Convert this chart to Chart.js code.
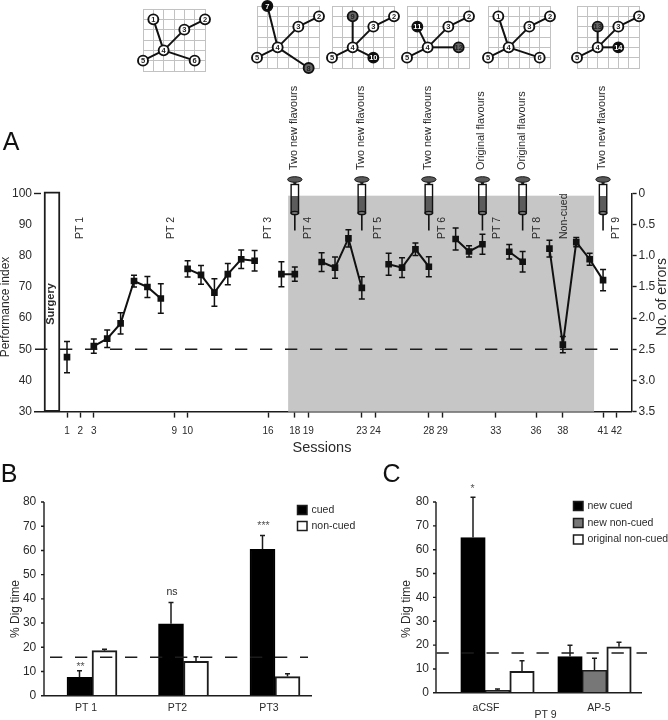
<!DOCTYPE html>
<html>
<head>
<meta charset="utf-8">
<title>Performance index and dig time</title>
<script src="https://cdn.jsdelivr.net/npm/chart.js@4/dist/chart.umd.min.js"></script>
<style>
  html, body { margin: 0; padding: 0; background: #fff; }
  #page { position: relative; width: 668px; height: 720px; overflow: hidden; }
  #page canvas { position: absolute; }
</style>
</head>
<body>
<div id="page">
  <canvas id="net1"></canvas>
  <canvas id="net2"></canvas>
  <canvas id="net3"></canvas>
  <canvas id="net4"></canvas>
  <canvas id="net5"></canvas>
  <canvas id="net6"></canvas>
  <canvas id="chartA" width="668" height="720" style="left:0;top:0"></canvas>
  <canvas id="chartB" width="668" height="720" style="left:0;top:0"></canvas>
  <canvas id="chartC" width="668" height="720" style="left:0;top:0"></canvas>
</div>

<script>
// ---- PANEL A DATA ----
const sessions = [1, 2, 3, 4, 5, 6, 7, 8, 9, 10, 11, 12, 13, 14, 15, 16, 17, 18, 19, 20, 21,
  22, 23, 24, 25, 26, 27, 28, 29, 30, 31, 32, 33, 34, 35, 36, 37, 38, 39, 40, 41];
const performance = [47.5, null, 51, 53.4, 58.3, 71.9, 70, 66.3, null, 75.8, 73.9, 68.2, 74.1, 78.9, 78.4, null, 74.1, 74.1, null, 78, 76.2,
  85.6, 69.7, null, 77.3, 76.2, 82.1, 76.5, null, 85.4, 81.4, 83.7, null, 81.3, 78.1, null, 82.3, 51.5, 84.4, 78.9, 72.2];
const performanceErr = [5, null, 2.3, 2.8, 3.4, 1.9, 3.4, 4.7, null, 2.6, 3, 4.4, 3.4, 3, 3.3, null, 4, 2.3, null, 3, 3.4,
  2.8, 3.6, null, 3.5, 3.2, 2, 3.2, null, 3.5, 1.8, 3.2, null, 2.3, 3.3, null, 2.7, 2.6, 1.5, 1.9, 3.4];
const sessionTicks = [1, 2, 3, 9, 10, 16, 18, 19, 23, 24, 28, 29, 33, 36, 38, 41, 42];
const performanceTicks = [30, 40, 50, 60, 70, 80, 90, 100];
const errorTicks = [0, 0.5, 1, 1.5, 2, 2.5, 3, 3.5];
const chanceLevelA = 50;
const surgerySession = -0.12;
const surgeryRange = [30, 100.5];
const shadedSessions = [17.5, 40.33];
const shadedTop = 99.3;

const syringeSessions = [18, 23, 28, 32, 35, 41];
const syringeLabels = ['Two new flavours', 'Two new flavours', 'Two new flavours',
  'Original flavours', 'Original flavours', 'Two new flavours'];
const probeSessions = [2, 8.8, 16, 19, 24.2, 29, 33.1, 36.1, 38.1, 42];
const probeLabels = ['PT 1', 'PT 2', 'PT 3', 'PT 4', 'PT 5', 'PT 6', 'PT 7', 'PT 8', 'Non-cued', 'PT 9'];

// ---- PANEL B DATA ----
const groupsB = ['PT 1', 'PT2', 'PT3'];
const cuedB = [7.6, 29.7, 60.5];
const cuedErrB = [2.7, 8.8, 5.7];
const nonCuedB = [18.6, 14.2, 7.9];
const nonCuedErrB = [0.6, 1.9, 1.2];
const sigLabelsB = ['**', 'ns', '***'];
const sigGapsB = [4, 10.5, 9];
const chanceLevelB = 15.9;

// ---- PANEL C DATA ----
const groupsC = ['aCSF', 'AP-5'];
const newCuedC = [65.1, 15.2];
const newCuedErrC = [16.9, 4.7];
const newNonCuedC = [1, 9.4];
const newNonCuedErrC = [0.6, 5.1];
const originalC = [9, 19.3];
const originalErrC = [4.4, 1.9];
const chanceLevelC = 16.7;
const digTicks = [0, 10, 20, 30, 40, 50, 60, 70, 80];

// ---- NETWORK SCHEMATICS (grid units) ----
const baseNodes = [
  { n: '2', x: 6, y: 1, kind: 'plain' },
  { n: '3', x: 4, y: 2, kind: 'plain' },
  { n: '4', x: 2, y: 4, kind: 'plain' },
  { n: '5', x: 0, y: 5, kind: 'plain' }
];
const net1Nodes = [{ n: '1', x: 1, y: 1, kind: 'plain' }, { n: '6', x: 5, y: 5, kind: 'plain' }];
const net2Nodes = [{ n: '7', x: 1, y: 0, kind: 'black' }, { n: '8', x: 5, y: 6, kind: 'gray' }];
const net3Nodes = [{ n: '9', x: 2, y: 1, kind: 'gray' }, { n: '10', x: 4, y: 5, kind: 'black' }];
const net4Nodes = [{ n: '11', x: 1, y: 2, kind: 'black' }, { n: '12', x: 5, y: 4, kind: 'gray' }];
const net5Nodes = [{ n: '1', x: 1, y: 1, kind: 'plain' }, { n: '6', x: 5, y: 5, kind: 'plain' }];
const net6Nodes = [{ n: '13', x: 2, y: 2, kind: 'gray' }, { n: '14', x: 4, y: 4, kind: 'black' }];
const netLefts = [143.3, 256.7, 332, 406.7, 488.3, 576.7];
const netTops = [8.5, 5.7, 5.7, 5.7, 5.7, 5.7];

// ---- SHARED STYLE ----
const INK = '#1c1c1c';
const TEXT = '#2a2a2a';
const FONT = '"Liberation Sans", Arial, sans-serif';
Chart.defaults.font.family = FONT;
Chart.defaults.color = TEXT;
Chart.defaults.animation = false;
Chart.defaults.responsive = false;
Chart.defaults.plugins.legend.display = false;
Chart.defaults.plugins.tooltip.enabled = false;

// ---- DRAW HELPERS ----
function drawText(ctx, str, x, y, size, opts = {}) {
  ctx.save();
  ctx.translate(x, y);
  if (opts.rotate) ctx.rotate(-Math.PI / 2);
  ctx.font = `${opts.weight || 'normal'} ${size}px ${FONT}`;
  ctx.fillStyle = opts.color || TEXT;
  ctx.textAlign = opts.align || 'center';
  ctx.textBaseline = 'middle';
  ctx.fillText(str, 0, 0);
  ctx.restore();
}

function drawDashed(ctx, y, fromX, toX) {
  ctx.save();
  ctx.strokeStyle = INK;
  ctx.lineWidth = 1.6;
  ctx.setLineDash([12.3, 12.7]);
  ctx.beginPath();
  ctx.moveTo(fromX, y);
  ctx.lineTo(toX, y);
  ctx.stroke();
  ctx.restore();
}

// y axis line and small ticks, the bar panels keep it apart from the first category
function drawDigAxes(chart, axisX, fromX, toX) {
  const { ctx, scales } = chart;
  const yScale = scales.y;
  ctx.save();
  ctx.strokeStyle = INK;
  ctx.lineWidth = 1.4;
  ctx.beginPath();
  ctx.moveTo(axisX, yScale.getPixelForValue(80));
  ctx.lineTo(axisX, yScale.getPixelForValue(0));
  digTicks.forEach(t => {
    const py = yScale.getPixelForValue(t);
    ctx.moveTo(axisX - 3, py);
    ctx.lineTo(axisX, py);
  });
  const baseY = yScale.getPixelForValue(0);
  ctx.moveTo(fromX, baseY);
  ctx.lineTo(toX, baseY);
  ctx.stroke();
  ctx.restore();
}

function drawBarErrors(chart, errorsByDataset) {
  const { ctx, scales } = chart;
  ctx.save();
  ctx.strokeStyle = INK;
  ctx.lineWidth = 1.5;
  errorsByDataset.forEach((errs, d) => {
    const meta = chart.getDatasetMeta(d);
    errs.forEach((err, i) => {
      const el = meta.data[i];
      const val = chart.data.datasets[d].data[i];
      const top = scales.y.getPixelForValue(val + err);
      ctx.beginPath();
      ctx.moveTo(el.x, el.y);
      ctx.lineTo(el.x, top);
      ctx.moveTo(el.x - 2.5, top);
      ctx.lineTo(el.x + 2.5, top);
      ctx.stroke();
    });
  });
  ctx.restore();
}

function drawBarLegend(ctx, items, x, ys, size) {
  items.forEach((item, i) => {
    ctx.save();
    ctx.fillStyle = item.color;
    ctx.strokeStyle = INK;
    ctx.lineWidth = 1.5;
    ctx.fillRect(x, ys[i] - 4.5, 9.5, 9);
    ctx.strokeRect(x, ys[i] - 4.5, 9.5, 9);
    ctx.restore();
    drawText(ctx, item.label, x + 14, ys[i], size, { align: 'left' });
  });
}

function drawSyringe(ctx, x) {
  ctx.save();
  // plunger head
  ctx.fillStyle = '#5a5a5a';
  ctx.strokeStyle = '#111';
  ctx.lineWidth = 1;
  ctx.beginPath();
  ctx.ellipse(x, 179.5, 7.2, 2.8, 0, 0, Math.PI * 2);
  ctx.fill();
  ctx.stroke();
  ctx.fillStyle = '#222';
  ctx.fillRect(x - 1.5, 182, 3, 3);
  // barrel, empty part on top and filled part below
  ctx.fillStyle = '#fff';
  ctx.fillRect(x - 3.7, 184.5, 7.4, 11.5);
  ctx.fillStyle = '#5c5c5c';
  ctx.fillRect(x - 3.7, 196, 7.4, 17);
  ctx.strokeStyle = '#111';
  ctx.lineWidth = 1.4;
  ctx.strokeRect(x - 3.7, 184.5, 7.4, 28.5);
  ctx.fillStyle = '#777';
  ctx.beginPath();
  ctx.ellipse(x, 213, 3.7, 1.6, 0, 0, Math.PI * 2);
  ctx.fill();
  ctx.stroke();
  // needle
  ctx.lineWidth = 1.6;
  ctx.beginPath();
  ctx.moveTo(x, 214);
  ctx.lineTo(x, 230.5);
  ctx.stroke();
  ctx.restore();
}

// ---- NETWORK CHARTS ----
const nodeFill = { plain: '#fff', black: '#0a0a0a', gray: '#666' };
const nodeText = { plain: '#222', black: '#fff', gray: '#222' };

const nodeLabelPlugin = {
  id: 'nodeLabels',
  afterDatasetsDraw(chart) {
    const meta = chart.getDatasetMeta(0);
    chart.data.datasets[0].data.forEach((node, i) => {
      const el = meta.data[i];
      drawText(chart.ctx, node.n, el.x, el.y + 0.5, 7.5, { color: nodeText[node.kind], weight: 'bold' });
    });
  }
};

function drawNetwork(canvasId, extraNodes, left, top) {
  const GRID = 62.4;
  const PAD = 9;
  const canvas = document.getElementById(canvasId);
  canvas.width = GRID + PAD * 2;
  canvas.height = GRID + PAD * 2;
  canvas.style.left = (left - PAD) + 'px';
  canvas.style.top = (top - PAD) + 'px';

  const nodes = [...extraNodes, ...baseNodes];
  const hub = nodes.find(n => n.n === '4');
  const three = nodes.find(n => n.n === '3');
  const edges = nodes.filter(n => n !== hub).map(n => {
    const parent = n.n === '2' ? three : hub;
    return {
      type: 'line',
      data: [{ x: n.x, y: n.y }, { x: parent.x, y: parent.y }],
      borderColor: '#111',
      borderWidth: 2,
      pointRadius: 0,
      clip: false
    };
  });

  new Chart(canvas, {
    type: 'scatter',
    data: {
      datasets: [{
        data: nodes,
        pointRadius: 5,
        pointBorderWidth: 1.9,
        pointBorderColor: '#111',
        pointBackgroundColor: nodes.map(n => nodeFill[n.kind]),
        clip: false
      }, ...edges]
    },
    options: {
      layout: { padding: PAD },
      scales: {
        x: {
          min: 0, max: 6,
          ticks: { display: false, stepSize: 1 },
          grid: { color: '#c2c2c2', lineWidth: 1, drawTicks: false },
          border: { color: '#c2c2c2' }
        },
        y: {
          min: 0, max: 6, reverse: true,
          ticks: { display: false, stepSize: 1 },
          grid: { color: '#c2c2c2', lineWidth: 1, drawTicks: false },
          border: { color: '#c2c2c2' }
        }
      }
    },
    plugins: [nodeLabelPlugin]
  });
}

[net1Nodes, net2Nodes, net3Nodes, net4Nodes, net5Nodes, net6Nodes].forEach((nodes, i) => {
  drawNetwork('net' + (i + 1), nodes, netLefts[i], netTops[i]);
});

// ---- PANEL A ----
const panelAPlugin = {
  id: 'panelA',
  beforeDatasetsDraw(chart) {
    const { ctx, scales, chartArea } = chart;
    const x0 = scales.x.getPixelForValue(shadedSessions[0]);
    const x1 = scales.x.getPixelForValue(shadedSessions[1]);
    const top = scales.y.getPixelForValue(shadedTop);
    ctx.save();
    ctx.fillStyle = '#c6c6c6';
    ctx.fillRect(x0, top, x1 - x0, chartArea.bottom - top);
    ctx.restore();
  },
  afterDatasetsDraw(chart) {
    const { ctx, scales } = chart;
    const { x: xScale, y: yScale } = scales;

    drawDashed(ctx, yScale.getPixelForValue(chanceLevelA), 35, 618);

    // tick beside the 100 label only
    ctx.save();
    ctx.strokeStyle = INK;
    ctx.lineWidth = 1.4;
    ctx.beginPath();
    ctx.moveTo(34, yScale.getPixelForValue(100));
    ctx.lineTo(41, yScale.getPixelForValue(100));
    ctx.stroke();

    // error bars
    ctx.strokeStyle = '#111';
    ctx.lineWidth = 1.5;
    sessions.forEach((s, i) => {
      if (performance[i] === null) return;
      const px = xScale.getPixelForValue(s);
      const hi = yScale.getPixelForValue(performance[i] + performanceErr[i]);
      const lo = yScale.getPixelForValue(performance[i] - performanceErr[i]);
      ctx.beginPath();
      ctx.moveTo(px, hi);
      ctx.lineTo(px, lo);
      ctx.moveTo(px - 3, hi);
      ctx.lineTo(px + 3, hi);
      ctx.moveTo(px - 3, lo);
      ctx.lineTo(px + 3, lo);
      ctx.stroke();
    });
    ctx.restore();

    syringeSessions.forEach((s, i) => {
      const px = xScale.getPixelForValue(s);
      drawSyringe(ctx, px);
      drawText(ctx, syringeLabels[i], px - 1, 170, 10.9, { rotate: true, align: 'left' });
    });

    probeSessions.forEach((s, i) => {
      drawText(ctx, probeLabels[i], xScale.getPixelForValue(s), 239, 10.5, { rotate: true, align: 'left' });
    });

    drawText(ctx, 'Surgery', 51, 304, 11, { rotate: true, weight: 'bold' });
    drawText(ctx, 'Performance index', 5.5, 307, 12, { rotate: true });
    drawText(ctx, 'No. of errors', 662, 297, 14, { rotate: true });
    drawText(ctx, 'Sessions', 322, 448, 14.5);
    drawText(ctx, 'A', 11, 143, 25, { color: '#111' });
  }
};

new Chart(document.getElementById('chartA'), {
  type: 'line',
  data: {
    datasets: [{
      type: 'line',
      data: sessions.map((s, i) => ({ x: s, y: performance[i] })),
      borderColor: '#111',
      borderWidth: 2,
      pointStyle: 'rect',
      pointRadius: 4.7,
      pointBackgroundColor: '#111',
      pointBorderColor: '#111',
      pointBorderWidth: 0,
      spanGaps: false,
      tension: 0
    }, {
      type: 'bar',
      data: [{ x: surgerySession, y: surgeryRange }],
      backgroundColor: '#fff',
      borderColor: INK,
      borderWidth: 2,
      borderSkipped: false,
      barThickness: 16,
      clip: false
    }]
  },
  options: {
    layout: { padding: { top: 193.5, left: 0, right: 0, bottom: 268.4 } },
    scales: {
      x: {
        type: 'linear',
        offset: false,
        min: -1.388,
        max: 43.13,
        afterFit: s => { s.height = 40; },
        afterBuildTicks: s => { s.ticks = sessionTicks.map(v => ({ value: v })); },
        ticks: {
          autoSkip: false,
          maxRotation: 0,
          padding: 8,
          font: { size: 10 },
          callback: v => String(v)
        },
        // the bar dataset would otherwise shift these marks between the ticks
        grid: { offset: false, drawOnChartArea: false, tickLength: 6, tickColor: INK, tickWidth: 1.4 },
        border: { color: INK, width: 1.5 }
      },
      y: {
        position: 'left',
        min: 30,
        max: 100,
        afterFit: s => { s.width = 35; },
        afterBuildTicks: s => { s.ticks = performanceTicks.map(v => ({ value: v })); },
        ticks: { padding: 3, font: { size: 12 }, callback: v => String(v) },
        grid: { display: false, drawTicks: false },
        border: { display: false }
      },
      y2: {
        position: 'right',
        min: 0,
        max: 3.5,
        reverse: true,
        afterFit: s => { s.width = 36.4; },
        afterBuildTicks: s => { s.ticks = errorTicks.map(v => ({ value: v })); },
        ticks: { padding: 2, font: { size: 12 }, callback: v => (v === 0 ? '0' : v.toFixed(1)) },
        grid: { drawOnChartArea: false, tickLength: 5, tickColor: INK, tickWidth: 1.4 },
        border: { color: INK, width: 1.5 }
      }
    }
  },
  plugins: [panelAPlugin]
});

// ---- PANEL B ----
const panelBPlugin = {
  id: 'panelB',
  afterDatasetsDraw(chart) {
    const { ctx, scales } = chart;
    drawDashed(ctx, scales.y.getPixelForValue(chanceLevelB), 50, 308);
    drawDigAxes(chart, 44, 42, 312);
    drawBarErrors(chart, [cuedErrB, nonCuedErrB]);

    const meta = chart.getDatasetMeta(0);
    sigLabelsB.forEach((label, i) => {
      const top = scales.y.getPixelForValue(cuedB[i] + cuedErrB[i]);
      const isStars = label.includes('*');
      drawText(ctx, label, meta.data[i].x + 1, top - sigGapsB[i], 10.5, { color: isStars ? '#555' : TEXT });
    });

    drawBarLegend(ctx, [{ label: 'cued', color: '#000' }, { label: 'non-cued', color: '#fff' }], 297.5, [510, 526], 10.5);
    drawText(ctx, '% Dig time', 15.5, 609, 12, { rotate: true });
    drawText(ctx, 'B', 9, 475, 25, { color: '#111' });
  }
};

new Chart(document.getElementById('chartB'), {
  type: 'bar',
  data: {
    labels: groupsB,
    datasets: [{
      label: 'cued',
      data: cuedB,
      backgroundColor: '#000',
      borderColor: '#000',
      borderWidth: 1.5,
      barThickness: 25
    }, {
      label: 'non-cued',
      data: nonCuedB,
      backgroundColor: '#fff',
      borderColor: INK,
      borderWidth: 2,
      barThickness: 25
    }]
  },
  options: {
    layout: { padding: { top: 502, left: 0, right: 347.25, bottom: 4.3 } },
    scales: {
      x: {
        afterFit: s => { s.height = 20; },
        ticks: { padding: 6, labelOffset: -6, font: { size: 10.5 }, maxRotation: 0 },
        grid: { display: false, drawTicks: false },
        border: { display: false }
      },
      y: {
        min: 0,
        max: 80,
        afterFit: s => { s.width = 46.25; },
        afterBuildTicks: s => { s.ticks = digTicks.map(v => ({ value: v })); },
        ticks: { padding: 10, font: { size: 12 }, callback: v => String(v) },
        grid: { display: false, drawTicks: false },
        border: { display: false }
      }
    }
  },
  plugins: [panelBPlugin]
});

// ---- PANEL C ----
const panelCPlugin = {
  id: 'panelC',
  afterDatasetsDraw(chart) {
    const { ctx, scales } = chart;
    drawDashed(ctx, scales.y.getPixelForValue(chanceLevelC), 436.5, 647);
    drawDigAxes(chart, 436, 434, 642);
    drawBarErrors(chart, [newCuedErrC, newNonCuedErrC, originalErrC]);

    const meta = chart.getDatasetMeta(0);
    drawText(ctx, '*', meta.data[0].x - 0.5, 489.5, 10.5, { color: '#555' });

    drawBarLegend(ctx, [
      { label: 'new cued', color: '#000' },
      { label: 'new non-cued', color: '#777' },
      { label: 'original non-cued', color: '#fff' }
    ], 573.5, [506, 523, 539.5], 10.5);

    drawText(ctx, groupsC[0], 486, 708, 10.5);
    drawText(ctx, groupsC[1], 599, 708, 10.5);
    drawText(ctx, 'PT 9', 545.5, 715, 10.5);
    drawText(ctx, '% Dig time', 407, 609, 12, { rotate: true });
    drawText(ctx, 'C', 391.5, 475, 25, { color: '#111' });
  }
};

new Chart(document.getElementById('chartC'), {
  type: 'bar',
  data: {
    labels: groupsC,
    datasets: [{
      label: 'new cued',
      data: newCuedC,
      backgroundColor: '#000',
      borderColor: '#000',
      borderWidth: 1.5,
      barThickness: 24.5
    }, {
      label: 'new non-cued',
      data: newNonCuedC,
      backgroundColor: '#777',
      borderColor: INK,
      borderWidth: 1.5,
      barThickness: 24.5
    }, {
      label: 'original non-cued',
      data: originalC,
      backgroundColor: '#fff',
      borderColor: INK,
      borderWidth: 2,
      barThickness: 24.5
    }]
  },
  options: {
    layout: { padding: { top: 502, left: 400, right: 25, bottom: 4.3 } },
    scales: {
      x: {
        afterFit: s => { s.height = 20; },
        ticks: { display: false },
        grid: { display: false, drawTicks: false },
        border: { display: false }
      },
      y: {
        min: 0,
        max: 80,
        afterFit: s => { s.width = 49; },
        afterBuildTicks: s => { s.ticks = digTicks.map(v => ({ value: v })); },
        ticks: { padding: 20, font: { size: 12 }, callback: v => String(v) },
        grid: { display: false, drawTicks: false },
        border: { display: false }
      }
    }
  },
  plugins: [panelCPlugin]
});
</script>
</body>
</html>
